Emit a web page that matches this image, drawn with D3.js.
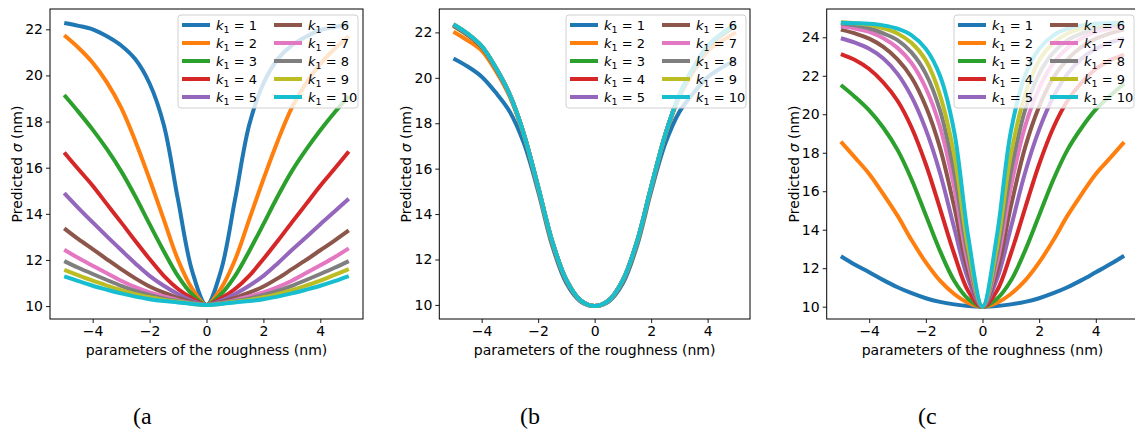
<!DOCTYPE html>
<html>
<head>
<meta charset="utf-8">
<script src="https://cdn.jsdelivr.net/npm/d3@7"></script>
<style>
body { margin: 0; background: #fff; }
</style>
</head>
<body>
<svg id="fig" width="1135" height="432"></svg>
<script>
// series names + matplotlib tab10 colours
const k1Values = [1, 2, 3, 4, 5, 6, 7, 8, 9, 10];
const lineColors = ["#1f77b4", "#ff7f0e", "#2ca02c", "#d62728", "#9467bd",
                    "#8c564b", "#e377c2", "#7f7f7f", "#bcbd22", "#17becf"];

const xTicks = [-4, -2, 0, 2, 4];
const yTicksA = [10, 12, 14, 16, 18, 20, 22];
const yTicksB = [10, 12, 14, 16, 18, 20, 22];
const yTicksC = [10, 12, 14, 16, 18, 20, 22, 24];
const panelLabels = ["(a", "(b", "(c"];

// roughness parameter, same grid for the three panels
const roughness = [-5, -4.5, -4, -3.5, -3, -2.5, -2, -1.5, -1, -0.5, 0,
                   0.5, 1, 1.5, 2, 2.5, 3, 3.5, 4, 4.5, 5];

// (a) predicted sigma, one row per k1
const sigmaA = [
  [22.27, 22.15, 22.0, 21.7, 21.3, 20.7, 19.65, 17.85, 14.6, 11.5, 10.05, 11.5, 14.6, 17.85, 19.65, 20.7, 21.3, 21.68, 21.97, 22.1, 22.2],
  [21.74, 21.2, 20.55, 19.7, 18.6, 17.15, 15.5, 13.75, 12.0, 10.75, 10.05, 10.75, 12.0, 13.75, 15.5, 17.15, 18.6, 19.67, 20.5, 21.15, 21.7],
  [19.15, 18.42, 17.65, 16.8, 15.85, 14.75, 13.55, 12.38, 11.3, 10.5, 10.05, 10.5, 11.3, 12.38, 13.55, 14.75, 15.85, 16.78, 17.62, 18.39, 19.1],
  [16.66, 15.93, 15.22, 14.42, 13.63, 12.82, 12.04, 11.31, 10.74, 10.33, 10.05, 10.33, 10.74, 11.31, 12.04, 12.82, 13.63, 14.42, 15.22, 15.95, 16.7],
  [14.9, 14.25, 13.63, 13.02, 12.43, 11.85, 11.31, 10.88, 10.52, 10.23, 10.05, 10.23, 10.52, 10.88, 11.31, 11.85, 12.43, 12.98, 13.55, 14.1, 14.65],
  [13.37, 12.9, 12.47, 12.03, 11.6, 11.2, 10.85, 10.58, 10.36, 10.17, 10.05, 10.17, 10.36, 10.58, 10.85, 11.2, 11.6, 12.0, 12.42, 12.84, 13.28],
  [12.44, 12.08, 11.75, 11.42, 11.1, 10.82, 10.59, 10.42, 10.26, 10.13, 10.05, 10.13, 10.26, 10.42, 10.59, 10.82, 11.1, 11.43, 11.77, 12.12, 12.5],
  [11.95, 11.66, 11.39, 11.13, 10.88, 10.66, 10.48, 10.33, 10.22, 10.12, 10.05, 10.12, 10.22, 10.33, 10.48, 10.66, 10.88, 11.13, 11.39, 11.66, 11.95],
  [11.57, 11.33, 11.1, 10.89, 10.69, 10.52, 10.38, 10.27, 10.19, 10.1, 10.05, 10.1, 10.19, 10.27, 10.38, 10.52, 10.69, 10.89, 11.1, 11.35, 11.6],
  [11.29, 11.08, 10.88, 10.71, 10.55, 10.41, 10.3, 10.22, 10.16, 10.09, 10.05, 10.09, 10.16, 10.22, 10.3, 10.41, 10.55, 10.71, 10.88, 11.08, 11.3]
];

// (b)
const sigmaB = [
  [20.85, 20.5, 20.05, 19.35, 18.5, 17.1, 15.0, 12.6, 10.95, 10.15, 9.95, 10.15, 10.95, 12.6, 15.0, 17.1, 18.5, 19.33, 20.02, 20.45, 20.8],
  [22.03, 21.65, 21.2, 20.3, 19.15, 17.45, 15.1, 12.7, 11.05, 10.18, 9.95, 10.18, 11.05, 12.7, 15.1, 17.45, 19.15, 20.28, 21.18, 21.62, 22.0],
  [22.28, 21.88, 21.35, 20.4, 19.22, 17.48, 15.15, 12.75, 11.08, 10.2, 9.95, 10.2, 11.08, 12.75, 15.15, 17.48, 19.22, 20.4, 21.35, 21.88, 22.28],
  [22.31, 21.9, 21.37, 20.42, 19.23, 17.49, 15.17, 12.77, 11.09, 10.2, 9.95, 10.2, 11.09, 12.77, 15.17, 17.49, 19.23, 20.42, 21.37, 21.9, 22.31],
  [22.33, 21.92, 21.38, 20.43, 19.24, 17.5, 15.18, 12.78, 11.1, 10.2, 9.95, 10.2, 11.1, 12.78, 15.18, 17.5, 19.24, 20.43, 21.38, 21.92, 22.33],
  [22.34, 21.93, 21.39, 20.44, 19.25, 17.5, 15.19, 12.79, 11.1, 10.2, 9.95, 10.2, 11.1, 12.79, 15.19, 17.5, 19.25, 20.44, 21.39, 21.93, 22.34],
  [22.35, 21.94, 21.39, 20.44, 19.25, 17.5, 15.2, 12.8, 11.1, 10.2, 9.95, 10.2, 11.1, 12.8, 15.2, 17.5, 19.25, 20.44, 21.39, 21.94, 22.35],
  [22.35, 21.94, 21.4, 20.45, 19.25, 17.5, 15.2, 12.8, 11.1, 10.2, 9.95, 10.2, 11.1, 12.8, 15.2, 17.5, 19.25, 20.45, 21.4, 21.94, 22.35],
  [22.36, 21.95, 21.4, 20.45, 19.25, 17.5, 15.2, 12.8, 11.1, 10.2, 9.95, 10.2, 11.1, 12.8, 15.2, 17.5, 19.25, 20.45, 21.4, 21.95, 22.36],
  [22.36, 21.95, 21.4, 20.45, 19.25, 17.5, 15.2, 12.8, 11.1, 10.2, 9.95, 10.2, 11.1, 12.8, 15.2, 17.5, 19.25, 20.45, 21.4, 21.95, 22.36]
];

// (c)
const sigmaC = [
  [12.62, 12.18, 11.79, 11.38, 11.01, 10.7, 10.44, 10.25, 10.12, 10.03, 10.0, 10.03, 10.12, 10.25, 10.44, 10.7, 11.01, 11.38, 11.79, 12.2, 12.65],
  [18.58, 17.75, 16.9, 15.85, 14.73, 13.45, 12.3, 11.35, 10.66, 10.2, 10.0, 10.2, 10.66, 11.35, 12.3, 13.45, 14.73, 15.85, 16.9, 17.72, 18.55],
  [21.52, 20.9, 20.2, 19.3, 18.15, 16.6, 14.75, 12.9, 11.35, 10.4, 10.0, 10.4, 11.35, 12.9, 14.75, 16.6, 18.15, 19.3, 20.25, 20.95, 21.6],
  [23.13, 22.82, 22.35, 21.65, 20.7, 19.3, 17.4, 15.1, 12.75, 10.8, 10.0, 10.8, 12.75, 15.1, 17.4, 19.3, 20.7, 21.65, 22.35, 22.8, 23.1],
  [23.95, 23.72, 23.4, 22.9, 22.1, 20.9, 19.2, 16.95, 14.1, 11.4, 10.0, 11.4, 14.1, 16.95, 19.2, 20.9, 22.1, 22.9, 23.4, 23.72, 23.95],
  [24.4, 24.2, 23.93, 23.5, 22.85, 21.9, 20.4, 18.25, 15.2, 11.8, 10.0, 11.8, 15.2, 18.25, 20.4, 21.9, 22.85, 23.5, 23.93, 24.2, 24.4],
  [24.57, 24.46, 24.28, 23.95, 23.45, 22.65, 21.35, 19.35, 16.2, 12.2, 10.0, 12.2, 16.2, 19.35, 21.35, 22.65, 23.45, 23.95, 24.28, 24.46, 24.57],
  [24.72, 24.62, 24.47, 24.2, 23.85, 23.2, 22.1, 20.2, 17.0, 12.6, 10.0, 12.6, 17.0, 20.2, 22.1, 23.2, 23.85, 24.2, 24.47, 24.62, 24.72],
  [24.78, 24.73, 24.65, 24.47, 24.2, 23.7, 22.8, 21.0, 17.9, 13.0, 10.0, 13.0, 17.9, 21.0, 22.8, 23.7, 24.2, 24.47, 24.65, 24.73, 24.78],
  [24.75, 24.73, 24.7, 24.62, 24.45, 24.1, 23.4, 22.0, 19.1, 13.6, 10.0, 13.6, 19.1, 22.0, 23.4, 24.1, 24.45, 24.62, 24.7, 24.73, 24.75]
];

const svg = d3.select("#fig");
const plotTop = 9, plotBottom = 319;
const sans = "'DejaVu Sans', sans-serif";

const panels = [
  {series: sigmaA, yTicks: yTicksA, left: 50, right: 363, yDomain: [9.44, 22.88], labelX: 133, legX: 178},
  {series: sigmaB, yTicks: yTicksB, left: 439.3, right: 750, yDomain: [9.38, 23.03], labelX: 520, legX: 566},
  {series: sigmaC, yTicks: yTicksC, left: 826.7, right: 1138.3, yDomain: [9.36, 25.47], labelX: 918, legX: 954}
];

panels.forEach(function (p, pi) {
  let x = d3.scaleLinear().domain([-5.5, 5.5]).range([p.left, p.right]);
  let y = d3.scaleLinear().domain(p.yDomain).range([plotBottom, plotTop]);
  let g = svg.append("g");

  let line = d3.line()
    .x((d, i) => x(roughness[i]))
    .y(d => y(d))
    .curve(d3.curveCatmullRom.alpha(0.5));

  g.selectAll("path.curve").data(p.series)
    .enter()
    .append("path")
    .attr("class", "curve")
    .attr("d", d => line(d))
    .attr("fill", "none")
    .attr("stroke", (d, i) => lineColors[i])
    .attr("stroke-width", 4)
    .attr("stroke-linejoin", "round");

  // axes
  let xAxis = g.append("g")
    .attr("transform", "translate(0," + plotBottom + ")")
    .call(d3.axisBottom(x).tickValues(xTicks).tickSize(4).tickPadding(3));
  let yAxis = g.append("g")
    .attr("transform", "translate(" + p.left + ",0)")
    .call(d3.axisLeft(y).tickValues(p.yTicks).tickSize(4).tickPadding(3));
  [xAxis, yAxis].forEach(function (a) {
    a.select(".domain").remove();
    a.attr("font-family", null).attr("font-size", null);
    a.selectAll("text").style("font-family", sans).style("font-size", "14px").attr("fill", "#000");
    a.selectAll("line").attr("stroke", "#000").attr("stroke-width", 0.9);
  });

  g.append("rect")
    .attr("x", p.left).attr("y", plotTop)
    .attr("width", p.right - p.left).attr("height", plotBottom - plotTop)
    .attr("fill", "none").attr("stroke", "#000").attr("stroke-width", 1);

  g.append("text")
    .attr("x", x(0))
    .attr("y", 355)
    .attr("text-anchor", "middle")
    .style("font-family", sans).style("font-size", "14px")
    .text("parameters of the roughness (nm)");

  let yl = g.append("text")
    .attr("transform", "translate(" + (p.left - 33) + "," + ((plotTop + plotBottom) / 2) + ") rotate(-90)")
    .attr("text-anchor", "middle")
    .attr("dy", "0.35em")
    .style("font-family", sans).style("font-size", "14px");
  yl.append("tspan").text("Predicted ");
  yl.append("tspan").attr("font-style", "italic").text("σ");
  yl.append("tspan").text(" (nm)");

  // legend, two columns of five
  let leg = g.append("g").attr("transform", "translate(" + p.legX + ",15)");
  leg.append("rect")
    .attr("width", 180).attr("height", 93).attr("rx", 3)
    .attr("fill", "#fff").attr("fill-opacity", 0.8)
    .attr("stroke", "#d0d0d0").attr("stroke-width", 1);

  let items = leg.selectAll("g.item").data(k1Values)
    .enter()
    .append("g")
    .attr("class", "item")
    .attr("transform", (d, i) => "translate(" + (i < 5 ? 4 : 96) + "," + (10 + (i % 5) * 18) + ")");
  items.append("line")
    .attr("x1", 0).attr("x2", 28)
    .attr("stroke", (d, i) => lineColors[i])
    .attr("stroke-width", 4);
  let t = items.append("text")
    .attr("x", 34)
    .attr("dy", "0.35em")
    .style("font-family", sans).style("font-size", "13px");
  t.append("tspan").attr("font-style", "italic").text("k");
  t.append("tspan").style("font-size", "9.5px").attr("dy", 3).text("1");
  t.append("tspan").attr("dy", -3).text(d => " = " + d);

  svg.append("text")
    .attr("x", p.labelX)
    .attr("y", 424)
    .style("font-family", "'Liberation Serif', 'Times New Roman', serif")
    .style("font-size", "24px")
    .attr("fill", "#000")
    .text(panelLabels[pi]);
});
</script>
</body>
</html>
